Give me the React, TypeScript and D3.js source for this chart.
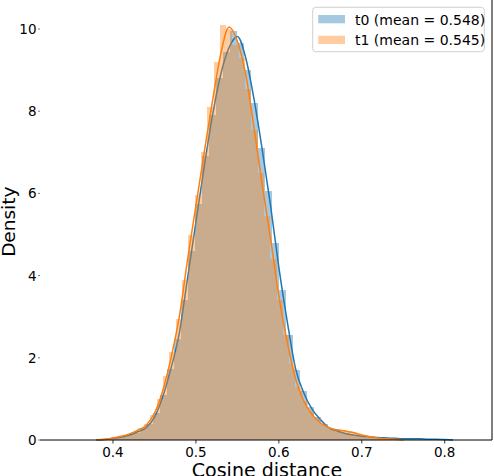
import React from "react";
import { scaleLinear, line, curveMonotoneX } from "d3";

// histogram bins (density)
const t0Start = 0.39;
const t0Width = 0.0084;
const t0Hist = [
  0.02, 0.05, 0.07, 0.12, 0.18, 0.26, 0.4, 0.66, 1.1, 1.72,
  2.45, 3.4, 4.6, 5.75, 6.9, 7.9, 8.8, 9.45, 9.95, 9.65,
  9.0, 8.2, 7.1, 6.05, 4.8, 3.65, 2.55, 1.7, 1.2, 0.8,
  0.55, 0.38, 0.27, 0.2, 0.16, 0.12, 0.1, 0.08, 0.07, 0.06,
  0.05, 0.04, 0.03, 0.03, 0.03, 0.02, 0.02, 0.02, 0.01, 0.01,
];

const t1Start = 0.392;
const t1Width = 0.0076;
const t1Hist = [
  0.03, 0.05, 0.08, 0.13, 0.2, 0.28, 0.4, 0.62, 1.0, 1.55,
  2.15, 2.95, 3.9, 5.0, 5.95, 7.0, 8.1, 9.2, 10.1, 10.0,
  9.6, 9.3, 8.55, 7.55, 6.5, 5.45, 4.4, 3.4, 2.55, 1.85,
  1.3, 0.95, 0.7, 0.5, 0.38, 0.3, 0.26, 0.24, 0.22, 0.18,
  0.13, 0.09, 0.06, 0.04, 0.03, 0.02, 0.02, 0.01, 0.01, 0.01,
];

// kde curves
const t0KdeX = [
  0.38, 0.39, 0.4, 0.41, 0.42, 0.43, 0.44, 0.45, 0.46, 0.47, 0.48, 0.49,
  0.5, 0.51, 0.52, 0.53, 0.54, 0.55, 0.56, 0.57, 0.58, 0.59, 0.6, 0.61,
  0.62, 0.63, 0.64, 0.65, 0.66, 0.67, 0.68, 0.69, 0.7, 0.71, 0.72, 0.73,
  0.74, 0.75, 0.76, 0.77, 0.78, 0.79, 0.8, 0.81,
];
const t0KdeY = [
  0, 0.01, 0.04, 0.07, 0.12, 0.2, 0.3, 0.55, 1.05, 1.75, 2.6, 3.95,
  5.3, 6.65, 7.9, 8.9, 9.55, 9.82, 9.3, 8.3, 7.06, 5.7, 4.2, 2.9,
  1.75, 1.15, 0.75, 0.5, 0.3, 0.22, 0.16, 0.12, 0.09, 0.08, 0.06, 0.05,
  0.04, 0.03, 0.03, 0.03, 0.02, 0.02, 0.01, 0,
];

const t1KdeX = [
  0.38, 0.39, 0.4, 0.41, 0.42, 0.43, 0.44, 0.45, 0.46, 0.47, 0.48, 0.49,
  0.5, 0.51, 0.52, 0.53, 0.54, 0.55, 0.56, 0.57, 0.58, 0.59, 0.6, 0.61,
  0.62, 0.63, 0.64, 0.65, 0.66, 0.67, 0.68, 0.69, 0.7, 0.71, 0.72, 0.73,
  0.74, 0.75,
];
const t1KdeY = [
  0, 0.02, 0.05, 0.09, 0.15, 0.24, 0.36, 0.65, 1.2, 2.0, 3.0, 4.4,
  5.7, 7.0, 8.25, 9.4, 10.05, 9.7, 8.9, 7.6, 6.2, 4.9, 3.5, 2.4,
  1.5, 0.95, 0.62, 0.42, 0.3, 0.25, 0.22, 0.18, 0.12, 0.08, 0.05, 0.03,
  0.02, 0,
];

const xTicks = [0.4, 0.5, 0.6, 0.7, 0.8];
const yTicks = [0, 2, 4, 6, 8, 10];
const legendLabels = ["t0 (mean = 0.548)", "t1 (mean = 0.545)"];

const W = 494;
const H = 476;
const left = 40;
const right = 492;
const bottom = 440;
const font = "'DejaVu Sans', sans-serif";

const blue = "#1f77b4";
const orange = "#ff7f0e";

export default function App() {
  const x = scaleLinear().domain([0.312, 0.857]).range([left, right]);
  const y = scaleLinear().domain([0, 10]).range([bottom, 29]);

  const kde = line<[number, number]>()
    .x((d) => x(d[0]))
    .y((d) => y(d[1]))
    .curve(curveMonotoneX);

  const series = [
    { start: t0Start, width: t0Width, hist: t0Hist, kx: t0KdeX, ky: t0KdeY, color: blue },
    { start: t1Start, width: t1Width, hist: t1Hist, kx: t1KdeX, ky: t1KdeY, color: orange },
  ];

  return (
    <svg
      width={W}
      height={H}
      style={{ position: "absolute", left: 0, top: 0, background: "#fff" }}
      fontFamily={font}
    >
      {series.map((s, si) => (
        <g key={si}>
          {s.hist.map((v, i) => {
            const x0 = x(s.start + i * s.width);
            const x1 = x(s.start + (i + 1) * s.width);
            return (
              <rect
                key={i}
                x={x0}
                y={y(v)}
                width={x1 - x0}
                height={y(0) - y(v)}
                fill={s.color}
                fillOpacity={0.4}
                shapeRendering="crispEdges"
              />
            );
          })}
          <path
            d={kde(s.kx.map((k, i) => [k, s.ky[i]] as [number, number])) || ""}
            fill="none"
            stroke={s.color}
            strokeWidth={1.5}
          />
        </g>
      ))}

      {/* spines */}
      <line x1={left} x2={right} y1={bottom} y2={bottom} stroke="#000" strokeWidth={1} />
      <line x1={right} x2={right} y1={0} y2={bottom} stroke="#000" strokeWidth={1} />

      {/* x ticks */}
      {xTicks.map((t) => (
        <g key={t}>
          <line x1={x(t)} x2={x(t)} y1={bottom} y2={bottom + 3.5} stroke="#000" strokeWidth={0.8} />
          <text x={x(t)} y={456.5} fontSize={13.5} textAnchor="middle" fill="#000">
            {t.toFixed(1)}
          </text>
        </g>
      ))}

      {/* y ticks */}
      {yTicks.map((t) => (
        <g key={t}>
          <line x1={38} x2={40} y1={y(t)} y2={y(t)} stroke="#555" strokeWidth={0.8} />
          <text x={36.5} y={y(t) + 5} fontSize={13.5} textAnchor="end" fill="#000">
            {t}
          </text>
        </g>
      ))}

      <text x={267} y={476.5} fontSize={19} textAnchor="middle" fill="#000">
        Cosine distance
      </text>
      <text
        transform={`translate(15,221.7) rotate(-90)`}
        fontSize={18.5}
        textAnchor="middle"
        fill="#000"
      >
        Density
      </text>

      {/* legend */}
      <g>
        <rect
          x={312.7}
          y={7.3}
          width={171.6}
          height={44.4}
          rx={3}
          fill="#fff"
          fillOpacity={0.8}
          stroke="#d0d0d0"
          strokeWidth={1}
        />
        {legendLabels.map((lab, i) => (
          <g key={lab}>
            <rect
              x={318.3}
              y={15 + i * 20.7}
              width={26.7}
              height={8.3}
              fill={i === 0 ? blue : orange}
              fillOpacity={0.4}
            />
            <text x={355} y={24.5 + i * 20.7} fontSize={14} fill="#000">
              {lab}
            </text>
          </g>
        ))}
      </g>
    </svg>
  );
}
